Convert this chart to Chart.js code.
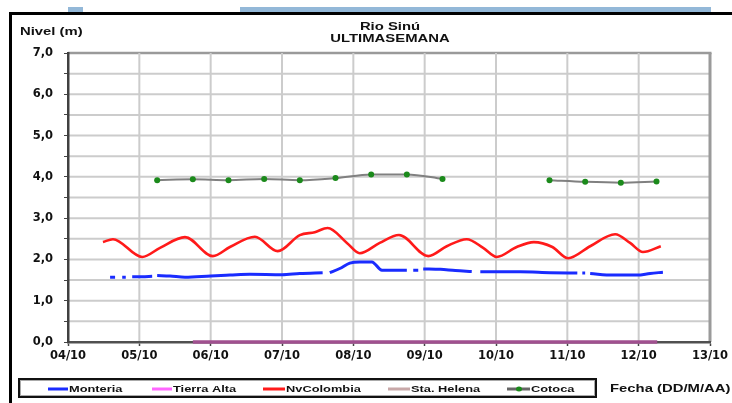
<!DOCTYPE html>
<html>
<head>
<meta charset="utf-8">
<script src="https://cdn.jsdelivr.net/npm/chart.js@4.4.1/dist/chart.umd.min.js"></script>
<style>
  body { margin: 0; width: 732px; height: 403px; overflow: hidden; background: #fff; }
</style>
</head>
<body>
<canvas id="chart" width="732" height="403"></canvas>
<script>
// x values are days counted from 04/10 00:00
var xTickLabels = ["04/10", "05/10", "06/10", "07/10", "08/10", "09/10", "10/10", "11/10", "12/10", "13/10"];
var yTickLabels = ["0,0", "1,0", "2,0", "3,0", "4,0", "5,0", "6,0", "7,0"];
var seriesNames = ["Monteria", "Tierra Alta", "NvColombia", "Sta. Helena", "Cotoca"];

var monteriaDays = [0.59, 0.66, 0.71, 0.76, 0.81, 0.85, 0.90, 1.04, 1.18, 1.21,
  1.25, 1.43, 1.64, 2.00, 2.27, 2.55, 3.00, 3.25, 3.57, 3.62,
  3.67, 3.81, 3.95, 4.09, 4.26, 4.40, 4.58, 4.75, 4.80,
  4.84, 4.91, 4.95, 4.98, 5.22, 5.43, 5.66, 5.72,
  5.78, 6.34, 6.76, 7.14, 7.18, 7.21, 7.25, 7.28,
  7.32, 7.64, 7.98, 8.16, 8.34];
var monteriaLevels = [1.57, 1.57, null, 1.57, 1.57, null, 1.58, 1.58, 1.59, null,
  1.61, 1.60, 1.57, 1.60, 1.62, 1.64, 1.63, 1.66, 1.68, null,
  1.68, 1.78, 1.91, 1.94, 1.94, 1.74, 1.74, 1.74, null,
  1.74, 1.74, null, 1.77, 1.76, 1.73, 1.71, null,
  1.70, 1.70, 1.68, 1.67, null, 1.67, 1.67, null,
  1.66, 1.62, 1.62, 1.66, 1.69];

var tierraDays = [1.75, 8.26];
var tierraLevels = [0, 0];

var nvDays = [0.49, 0.63, 1.04, 1.29, 1.64, 2.03, 2.27, 2.62, 2.94, 3.25, 3.46, 3.64,
  3.91, 4.09, 4.37, 4.64, 5.05, 5.31, 5.59, 5.82, 6.01, 6.29, 6.53, 6.79, 7.01,
  7.32, 7.67, 7.88, 8.06, 8.31];
var nvLevels = [2.42, 2.49, 2.06, 2.28, 2.54, 2.08, 2.30, 2.55, 2.20, 2.59, 2.66, 2.76,
  2.40, 2.15, 2.40, 2.59, 2.08, 2.32, 2.49, 2.28, 2.06, 2.30, 2.42, 2.30, 2.03,
  2.32, 2.61, 2.40, 2.18, 2.32];

var helenaDays = [];
var helenaLevels = [];

var cotocaDays = [1.25, 1.75, 2.25, 2.75, 3.25, 3.75, 4.25, 4.75, 5.25, 5.75, 6.25, 6.75, 7.25, 7.75, 8.25];
var cotocaLevels = [3.92, 3.94, 3.92, 3.95, 3.92, 3.97, 4.06, 4.06, 3.95, null, null, 3.92, 3.88, 3.86, 3.89];

var legendColors = ["#1a2cff", "#ff66ff", "#ff1a1a", "#c8a8a8", "#666666"];
var drawColors = ["#1a2cff", "#a0508f", "#ff1a1a", "#c8a8a8", "#808080"];

function pts(days, levels) {
  return days.map(function (d, i) { return { x: d, y: levels[i] }; });
}

var allDays = [monteriaDays, tierraDays, nvDays, helenaDays, cotocaDays];
var allLevels = [monteriaLevels, tierraLevels, nvLevels, helenaLevels, cotocaLevels];
var widths = [3, 3.5, 2.6, 2, 2];

var datasets = seriesNames.map(function (name, i) {
  return {
    label: name,
    data: pts(allDays[i], allLevels[i]),
    borderColor: drawColors[i],
    backgroundColor: drawColors[i],
    borderWidth: widths[i],
    pointRadius: i == 4 ? 3 : 0,
    pointBorderWidth: 0,
    pointBackgroundColor: "#1b8a1b",
    cubicInterpolationMode: "monotone",
    spanGaps: false,
    fill: false,
    clip: 6,
  };
});

// text in the original is wide, so it is drawn stretched
function wideText(c, s, x, y, size, align) {
  c.save();
  c.translate(x, y);
  c.scale(1.35, 1);
  c.font = "bold " + size + 'px "Liberation Sans", Arial, sans-serif';
  c.textAlign = align;
  c.textBaseline = "middle";
  c.fillStyle = "#111";
  c.fillText(s, 0, 0);
  c.restore();
}

// grid lines, placed from the scales and painted behind what is already drawn
var plotGrid = {
  id: "plotGrid",
  afterDraw: function (chart) {
    var c = chart.ctx;
    var xs = chart.scales.x, ys = chart.scales.y;
    var left = xs.left, right = xs.right, top = ys.top, bottom = ys.bottom;
    var probe = c.getImageData(Math.round(xs.getPixelForValue(0.25)), Math.round(ys.getPixelForValue(6.25)), 1, 1).data;
    c.save();
    c.globalCompositeOperation = probe[3] > 0 ? "source-over" : "destination-over";
    var d, v, px;
    for (d = 1; d <= 9; d++) {
      px = xs.getPixelForValue(d);
      c.strokeStyle = d == 9 ? "#9a9a9a" : "#cccccc";
      c.lineWidth = d == 9 ? 3 : 2;
      c.beginPath();
      c.moveTo(px, top);
      c.lineTo(px, bottom);
      c.stroke();
    }
    for (v = 0.5; v <= 7; v += 0.5) {
      px = ys.getPixelForValue(v);
      c.strokeStyle = v == 7 ? "#9a9a9a" : "#cccccc";
      c.lineWidth = v == 7 ? 2.5 : 2;
      c.beginPath();
      c.moveTo(left, px);
      c.lineTo(v == 7 ? right + 1.5 : right, px);
      c.stroke();
    }
    c.restore();
  },
};

// frame, title, axis captions and the boxed legend
var decor = {
  id: "decor",
  afterDraw: function (chart) {
    var c = chart.ctx;
    c.save();
    c.fillStyle = "#000";
    c.fillRect(9, 12, 3, 400);
    c.fillRect(9, 12, 730, 3);
    c.fillStyle = "#93b8d8";
    c.fillRect(68, 7, 15, 5);
    c.fillRect(240, 7, 471, 5);

    wideText(c, "Rio Sinú", 390, 27, 11, "center");
    wideText(c, "ULTIMASEMANA", 390, 39, 11, "center");
    wideText(c, "Nivel (m)", 20, 32, 11, "left");
    wideText(c, "Fecha (DD/M/AA)", 610, 389, 11, "left");

    c.strokeStyle = "#111";
    c.lineWidth = 2;
    c.strokeRect(19, 379, 577, 18);
    c.strokeStyle = "#aaa";
    c.lineWidth = 1;
    c.strokeRect(20.5, 380.5, 574, 15);

    var sampleLeft = [48, 152, 263, 388, 507];
    var sampleWidth = [20, 20, 22, 22, 23];
    chart.data.datasets.forEach(function (ds, i) {
      c.fillStyle = legendColors[i];
      c.fillRect(sampleLeft[i], 387.5, sampleWidth[i], 3);
      if (i == 4) {
        c.fillStyle = "#1b8a1b";
        c.beginPath();
        c.ellipse(sampleLeft[i] + 12, 389, 3, 2.5, 0, 0, Math.PI * 2);
        c.fill();
      }
      wideText(c, ds.label, sampleLeft[i] + sampleWidth[i] + 1, 389, 9.5, "left");
    });
    c.restore();
  },
};

var tickFont = { family: '"DejaVu Sans", sans-serif', size: 11.5, weight: "bold" };

new Chart(document.getElementById("chart"), {
  type: "line",
  data: { datasets: datasets },
  plugins: [plotGrid, decor],
  options: {
    responsive: false,
    animation: false,
    layout: { padding: { left: 0, right: 22, top: 53, bottom: 0 } },
    plugins: { legend: { display: false }, tooltip: { enabled: false } },
    scales: {
      x: {
        type: "linear",
        min: 0,
        max: 9,
        afterFit: function (scale) { scale.height = 61; },
        ticks: {
          stepSize: 1,
          autoSkip: false,
          maxRotation: 0,
          padding: 3,
          color: "#111",
          font: tickFont,
          callback: function (v) { return xTickLabels[v]; },
        },
        grid: {
          drawOnChartArea: false,
          tickLength: 4,
          tickColor: "#444",
          tickWidth: 1.5,
        },
        border: { color: "#505050", width: 2.5 },
      },
      y: {
        min: 0,
        max: 7,
        afterFit: function (scale) { scale.width = 68; },
        ticks: {
          stepSize: 0.5,
          autoSkip: false,
          padding: 11,
          color: "#111",
          font: tickFont,
          callback: function (v) { return Number.isInteger(v) ? yTickLabels[v] : " "; },
        },
        grid: {
          drawOnChartArea: false,
          tickLength: 4,
          tickColor: "#444",
        },
        border: { color: "#404040", width: 2.5 },
      },
    },
  },
});
</script>
</body>
</html>
